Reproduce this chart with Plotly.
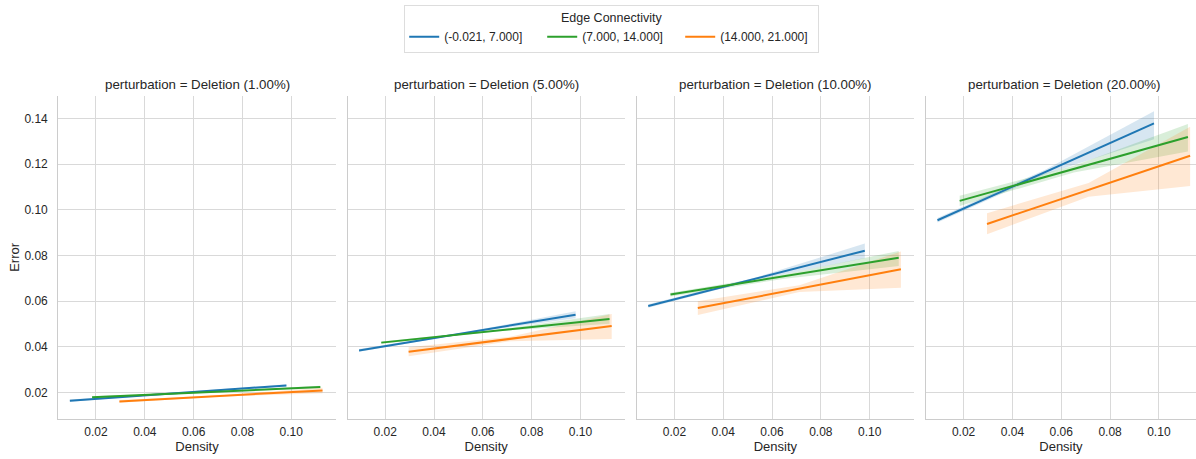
import plotly.graph_objects as go

# ---- data ----
panels = ["Deletion (1.00%)", "Deletion (5.00%)", "Deletion (10.00%)", "Deletion (20.00%)"]
groups = ["(-0.021, 7.000]", "(7.000, 14.000]", "(14.000, 21.000]"]
colors = ["#1f77b4", "#2ca02c", "#ff7f0e"]
fills = ["rgba(31,119,180,0.18)", "rgba(44,160,44,0.18)", "rgba(255,127,14,0.18)"]

# density extents of each fitted line (start, end) per group
x_start = [0.0093, 0.0184, 0.0296]
x_end = [0.0980, 0.1119, 0.1128]

# fitted Error at line start / end: [panel][group]
y_start = [
    [0.0165, 0.0180, 0.0162],
    [0.0385, 0.0419, 0.0379],
    [0.0579, 0.0629, 0.0570],
    [0.0954, 0.1039, 0.0938],
]
y_end = [
    [0.0232, 0.0225, 0.0210],
    [0.0541, 0.0522, 0.0492],
    [0.0821, 0.0790, 0.0740],
    [0.1378, 0.1318, 0.1236],
]

# confidence band: lower / upper at (start, middle, end) of each line
band_lo = [
    [[0.0160, 0.0198, 0.0227], [0.0175, 0.0200, 0.0220], [0.0156, 0.0183, 0.0198]],
    [[0.0379, 0.0460, 0.0526], [0.0414, 0.0468, 0.0502], [0.0359, 0.0425, 0.0435]],
    [[0.0571, 0.0695, 0.0788], [0.0621, 0.0698, 0.0754], [0.0540, 0.0640, 0.0659]],
    [[0.0944, 0.1156, 0.1308], [0.1017, 0.1163, 0.1255], [0.0893, 0.1057, 0.1104]],
]
band_hi = [
    [[0.0170, 0.0202, 0.0237], [0.0185, 0.0204, 0.0230], [0.0168, 0.0189, 0.0222]],
    [[0.0391, 0.0466, 0.0556], [0.0424, 0.0474, 0.0544], [0.0399, 0.0445, 0.0544]],
    [[0.0587, 0.0705, 0.0852], [0.0637, 0.0718, 0.0820], [0.0600, 0.0670, 0.0818]],
    [[0.0964, 0.1176, 0.1431], [0.1061, 0.1193, 0.1375], [0.0985, 0.1117, 0.1363]],
]

x_ticks = [0.02, 0.04, 0.06, 0.08, 0.10]
y_ticks = [0.02, 0.04, 0.06, 0.08, 0.10, 0.12, 0.14]

# ---- layout geometry (pixels) ----
W, H = 1196, 459
px_per_x = 2441.0
ax_left = [58.3, 347.5, 636.7, 925.9]
ax_w = 277.4
ax_top, ax_bot = 96.0, 418.7
x0 = 0.00456
y_range = [0.00863, 0.14975]

FONT = "Liberation Sans, Arial, sans-serif"
TXT = "#262626"
GRID = "#d9d9d9"
SPINE = "#cccccc"

fig = go.Figure()
layout = dict(
    width=W, height=H, margin=dict(l=0, r=0, t=0, b=0),
    paper_bgcolor="white", plot_bgcolor="white",
    font=dict(family=FONT, color=TXT, size=12),
    showlegend=True,
)
annotations = []
for p in range(4):
    xa = "xaxis" if p == 0 else f"xaxis{p+1}"
    ya = "yaxis" if p == 0 else f"yaxis{p+1}"
    xr = "x" if p == 0 else f"x{p+1}"
    yr = "y" if p == 0 else f"y{p+1}"
    left = ax_left[p]
    right = min(left + ax_w, W)
    d0, d1 = left / W, right / W
    layout[xa] = dict(
        domain=[d0, d1], anchor=yr,
        range=[x0, x0 + (right - left) / px_per_x],
        tickvals=x_ticks, tickformat=".2f",
        showgrid=True, gridcolor=GRID, gridwidth=1,
        showline=True, linecolor=SPINE, linewidth=1.2,
        zeroline=False, ticks="", ticklabelstandoff=2,
        tickfont=dict(size=12, color=TXT),
        title=dict(text="Density", font=dict(size=13, color=TXT), standoff=1),
    )
    layout[ya] = dict(
        domain=[1 - ax_bot / H, 1 - ax_top / H], anchor=xr,
        range=y_range, tickvals=y_ticks, tickformat=".2f",
        showgrid=True, gridcolor=GRID, gridwidth=1,
        showline=True, linecolor=SPINE, linewidth=1.2,
        zeroline=False, ticks="", showticklabels=(p == 0),
        ticklabelstandoff=7,
        tickfont=dict(size=12, color=TXT),
    )
    if p == 0:
        layout[ya]["title"] = dict(text="Error", font=dict(size=13, color=TXT), standoff=1)
    annotations.append(dict(
        text=f"perturbation = {panels[p]}", xref="paper", yref="paper",
        x=(left + ax_w / 2) / W, y=1 - ax_top / H, yshift=2,
        xanchor="center", yanchor="bottom", showarrow=False,
        font=dict(size=13.3, color=TXT),
    ))
    for g in range(3):
        xs = [x_start[g], (x_start[g] + x_end[g]) / 2, x_end[g]]
        fig.add_trace(go.Scatter(
            x=xs + xs[::-1], y=band_lo[p][g] + band_hi[p][g][::-1],
            fill="toself", fillcolor=fills[g], line=dict(width=0),
            mode="lines", hoverinfo="skip", showlegend=False,
            xaxis=xr, yaxis=yr,
        ))
    for g in range(3):
        fig.add_trace(go.Scatter(
            x=[x_start[g], x_end[g]], y=[y_start[p][g], y_end[p][g]],
            mode="lines", line=dict(color=colors[g], width=2),
            name=groups[g], legendgroup=groups[g], showlegend=(p == 0),
            xaxis=xr, yaxis=yr,
        ))

layout["annotations"] = annotations
layout["legend"] = dict(
    orientation="h", x=611.7 / W, xanchor="center", y=1 - 5 / H, yanchor="top",
    bordercolor="#dddddd", borderwidth=1, bgcolor="white",
    title=dict(text="Edge Connectivity", side="top center", font=dict(size=12.5, color=TXT)),
    font=dict(size=12, color=TXT), itemwidth=30, tracegroupgap=0,
    entrywidth=93, entrywidthmode="pixels",
)
fig.update_layout(**layout)
fig.write_html("out.html")
